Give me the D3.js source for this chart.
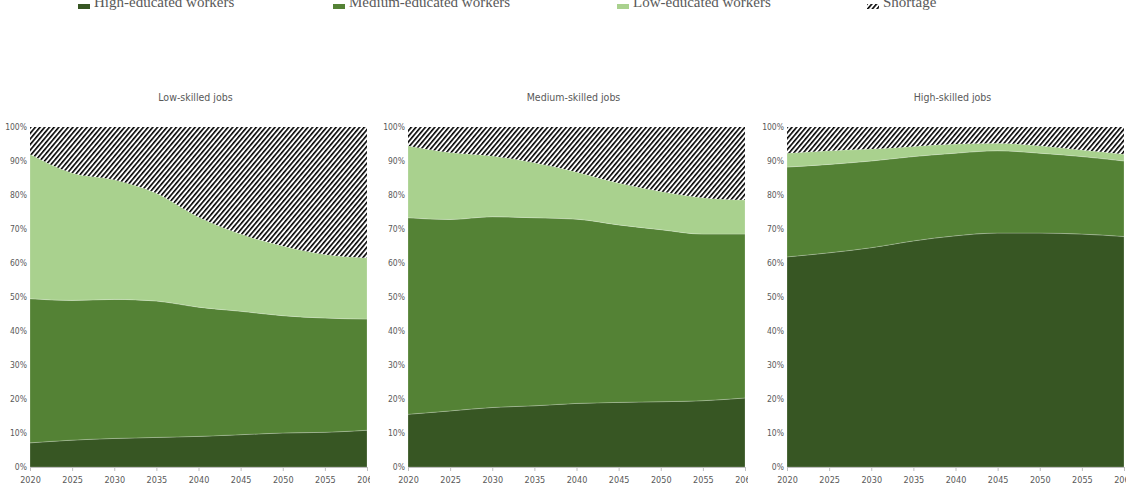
<!DOCTYPE html>
<meta charset="utf-8">
<style>
body { margin: 0; background: #fff; }
text { font-family: "Liberation Sans Narrow", "DejaVu Sans Condensed", sans-serif; font-stretch: condensed; fill: #595959; }
.legend text { font-family: "Liberation Serif", serif; font-stretch: normal; font-size: 15px; fill: #595959; }
</style>
<svg width="1126" height="490"></svg>
<script src="https://d3js.org/d3.v7.min.js"></script>
<script>

var years = [2020, 2025, 2030, 2035, 2040, 2045, 2050, 2055, 2060];
var seriesNames = ["High-educated workers", "Medium-educated workers", "Low-educated workers", "Shortage"];
var panelTitles = ["Low-skilled jobs", "Medium-skilled jobs", "High-skilled jobs"];
var yTicks = [0, 10, 20, 30, 40, 50, 60, 70, 80, 90, 100];

// shares in % per year
var lowHigh   = [7.1, 7.9, 8.4, 8.7, 9.0, 9.5, 10.0, 10.2, 10.8];
var lowMedium = [42.4, 41.1, 40.9, 40.1, 38.0, 36.3, 34.5, 33.6, 32.7];
var lowLow    = [42.5, 37.5, 35.2, 31.7, 26.5, 22.7, 20.5, 18.7, 18.0];
var lowShort  = [8.0, 13.5, 15.5, 19.5, 26.5, 31.5, 35.0, 37.5, 38.5];

var medHigh   = [15.5, 16.5, 17.5, 18.0, 18.7, 19.0, 19.2, 19.5, 20.3];
var medMedium = [57.8, 56.3, 56.1, 55.3, 54.2, 52.2, 50.6, 49.0, 48.2];
var medLow    = [21.2, 19.7, 17.9, 16.2, 13.9, 12.3, 11.2, 10.7, 10.0];
var medShort  = [5.5, 7.5, 8.5, 10.5, 13.2, 16.5, 19.0, 20.8, 21.5];

var highHigh   = [61.8, 63.0, 64.5, 66.5, 68.0, 68.8, 68.8, 68.5, 67.8];
var highMedium = [26.4, 26.0, 25.5, 24.8, 24.3, 24.2, 23.5, 22.8, 22.2];
var highLow    = [4.1, 4.0, 3.5, 3.0, 2.7, 2.2, 2.2, 1.9, 2.0];
var highShort  = [7.7, 7.0, 6.5, 5.7, 5.0, 4.8, 5.5, 6.8, 8.0];

var panelData = [
  [lowHigh, lowMedium, lowLow, lowShort],
  [medHigh, medMedium, medLow, medShort],
  [highHigh, highMedium, highLow, highShort]
];

var colors = ["#375623", "#548235", "#a9d18e", "url(#hatch)"];

var svg = d3.select("svg");

var defs = svg.append("defs");
var pat = defs.append("pattern")
    .attr("id", "hatch")
    .attr("patternUnits", "userSpaceOnUse")
    .attr("width", 3.6)
    .attr("height", 3.6)
    .attr("patternTransform", "rotate(40)");
pat.append("rect").attr("width", 3.6).attr("height", 3.6).attr("fill", "#fff");
pat.append("line")
    .attr("x1", 0.8).attr("y1", 0).attr("x2", 0.8).attr("y2", 3.6)
    .attr("stroke", "#000").attr("stroke-width", 1.6);

// legend (partly cut off at top)
var legendX = [78, 333, 617, 867];
var legend = svg.append("g").attr("class", "legend");
seriesNames.forEach(function(name, i) {
  legend.append("rect")
      .attr("x", legendX[i]).attr("y", 4)
      .attr("width", 12).attr("height", 5)
      .attr("fill", colors[i]);
  legend.append("text")
      .attr("x", legendX[i] + 16).attr("y", 7)
      .text(name);
});

var panelLeft = [30, 408, 787];
var plotW = 337, plotTop = 127, plotBottom = 467;

var y = d3.scaleLinear().domain([0, 100]).range([plotBottom, plotTop]);

panelLeft.forEach(function(left, p) {
  var x = d3.scaleLinear().domain([2020, 2060]).range([left, left + plotW]);

  defs.append("clipPath").attr("id", "clip" + p)
    .append("rect")
      .attr("x", left - 40).attr("y", 0)
      .attr("width", plotW + 43).attr("height", 490);

  var g = svg.append("g").attr("clip-path", "url(#clip" + p + ")");

  var rows = years.map(function(yr, i) {
    var r = { year: yr };
    seriesNames.forEach(function(s, k) { r[s] = panelData[p][k][i]; });
    return r;
  });

  var stacked = d3.stack().keys(seriesNames)(rows);

  var area = d3.area()
      .curve(d3.curveMonotoneX)
      .x(function(d) { return x(d.data.year); })
      .y0(function(d) { return y(d[0]); })
      .y1(function(d) { return y(d[1]); });

  g.selectAll("path.area")
    .data(stacked)
    .enter().append("path")
      .attr("class", "area")
      .attr("d", area)
      .attr("fill", function(d, i) { return colors[i]; })
      .attr("stroke", function(d, i) { return i < 3 ? "rgba(255,255,255,0.35)" : "none"; })
      .attr("stroke-width", 0.6);

  // x axis
  var xAxis = g.append("g")
      .attr("transform", "translate(0," + plotBottom + ")")
      .call(d3.axisBottom(x).tickValues(years).tickFormat(d3.format("d")).tickSize(4).tickSizeOuter(0));
  xAxis.select(".domain").attr("stroke", "#bfbfbf");
  xAxis.selectAll(".tick line").attr("stroke", "#bfbfbf");
  xAxis.selectAll("text").attr("font-size", 9).attr("dy", "1.05em").attr("fill", "#595959");

  // y axis
  var yAxis = g.append("g")
      .attr("transform", "translate(" + left + ",0)")
      .call(d3.axisLeft(y).tickValues(yTicks).tickFormat(function(d) { return d + "%"; }).tickSize(0).tickPadding(3));
  yAxis.select(".domain").remove();
  yAxis.selectAll("text").attr("font-size", 8.5).attr("fill", "#595959");

  svg.append("text")
      .attr("x", left + plotW / 2 - 3)
      .attr("y", 101)
      .attr("text-anchor", "middle")
      .attr("font-size", 10.5)
      .text(panelTitles[p]);
});

</script>
